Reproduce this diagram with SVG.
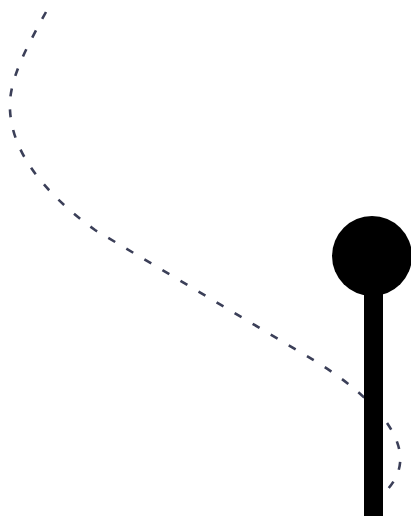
<svg xmlns="http://www.w3.org/2000/svg" width="411" height="516" viewBox="0 0 411 516">
<style>
.path{fill:none;stroke:#3b3f58;stroke-width:2.6;stroke-dasharray:8 13;stroke-linecap:butt}
.pin{fill:#000}
</style>
<rect width="411" height="516" fill="#fff"/>
<g id="connectors">
<path class="path" d="M46,12 C28,45 8,80 10,110 C12,150 40,190 95,230 L300,352 C340,375 365,395 385,420 C405,448 405,470 387,490"/>
</g>
<g id="pin">
<rect class="pin" x="364" y="270" width="19" height="246"/>
<circle class="pin" cx="372" cy="256" r="40"/>
</g>
</svg>
